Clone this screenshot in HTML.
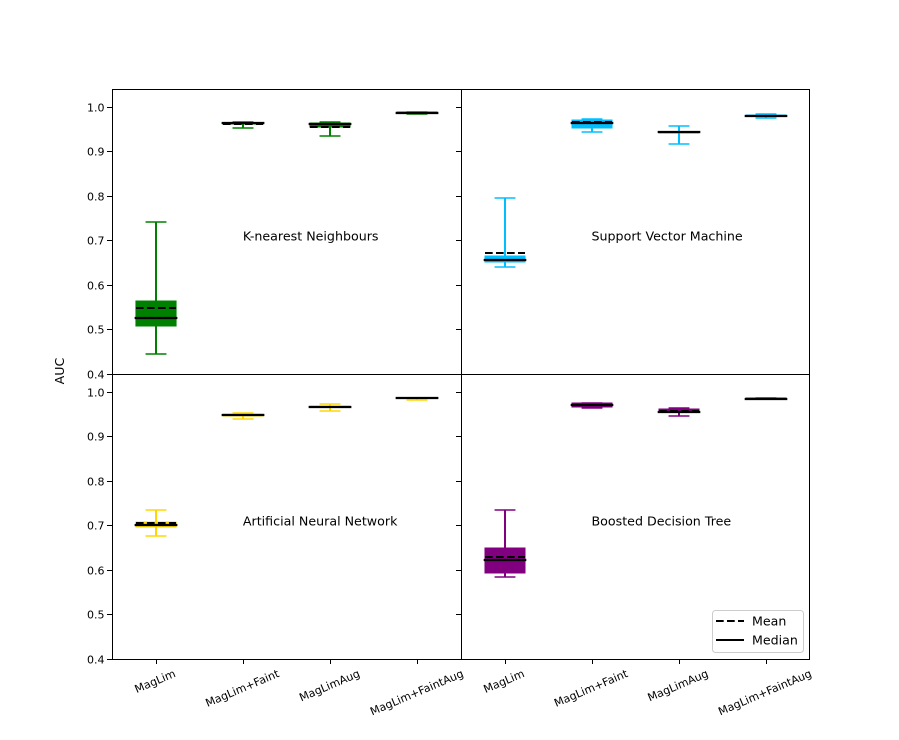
<!DOCTYPE html>
<html>
<head>
<meta charset="utf-8">
<title>AUC box plots</title>
<style>
html,body{margin:0;padding:0;background:#fff;}
svg{display:block;font-family:"DejaVu Sans","Liberation Sans",sans-serif;}
</style>
</head>
<body>
<svg id="chart" xmlns="http://www.w3.org/2000/svg" width="899" height="740" viewBox="0 0 899 740">
<rect width="899" height="740" fill="#ffffff"></rect>
</svg>
<script>
const categories = ["MagLim", "MagLim+Faint", "MagLimAug", "MagLim+FaintAug"];
const yTickValues = [0.4, 0.5, 0.6, 0.7, 0.8, 0.9, 1.0];
const yTickLabels = ["0.4", "0.5", "0.6", "0.7", "0.8", "0.9", "1.0"];
const panelTitles = ["K-nearest Neighbours", "Support Vector Machine", "Artificial Neural Network", "Boosted Decision Tree"];
const panelSlugs = ["knn", "svm", "ann", "bdt"];
const panelColors = ["#008000", "#00bfff", "#ffd700", "#800080"];

const knnWhiskerHigh = [0.741, 0.965, 0.9665, 0.989];
const knnQ3 = [0.564, 0.964, 0.963, 0.9875];
const knnMedian = [0.526, 0.963, 0.961, 0.987];
const knnMean = [0.549, 0.962, 0.9555, 0.987];
const knnQ1 = [0.508, 0.961, 0.954, 0.9865];
const knnWhiskerLow = [0.446, 0.952, 0.934, 0.983];

const svmWhiskerHigh = [0.7945, 0.973, 0.957, 0.9845];
const svmQ3 = [0.664, 0.970, 0.944, 0.9805];
const svmMedian = [0.656, 0.9635, 0.943, 0.980];
const svmMean = [0.672, 0.965, 0.943, 0.980];
const svmQ1 = [0.652, 0.952, 0.942, 0.9795];
const svmWhiskerLow = [0.6395, 0.943, 0.916, 0.976];

const annWhiskerHigh = [0.734, 0.9525, 0.9726, 0.987];
const annQ3 = [0.7077, 0.951, 0.968, 0.9865];
const annMedian = [0.7016, 0.9487, 0.9667, 0.986];
const annMean = [0.705, 0.9487, 0.9667, 0.986];
const annQ1 = [0.697, 0.9465, 0.965, 0.9855];
const annWhiskerLow = [0.6755, 0.938, 0.956, 0.982];

const bdtWhiskerHigh = [0.734, 0.9755, 0.9635, 0.986];
const bdtQ3 = [0.649, 0.974, 0.9625, 0.985];
const bdtMedian = [0.623, 0.9704, 0.9553, 0.9845];
const bdtMean = [0.630, 0.9704, 0.958, 0.9845];
const bdtQ1 = [0.594, 0.967, 0.954, 0.984];
const bdtWhiskerLow = [0.5835, 0.9645, 0.945, 0.983];

const whiskerHighSeries = [knnWhiskerHigh, svmWhiskerHigh, annWhiskerHigh, bdtWhiskerHigh];
const q3Series = [knnQ3, svmQ3, annQ3, bdtQ3];
const medianSeries = [knnMedian, svmMedian, annMedian, bdtMedian];
const meanSeries = [knnMean, svmMean, annMean, bdtMean];
const q1Series = [knnQ1, svmQ1, annQ1, bdtQ1];
const whiskerLowSeries = [knnWhiskerLow, svmWhiskerLow, annWhiskerLow, bdtWhiskerLow];

const legendLabels = ["Mean", "Median"];
const yAxisTitle = "AUC";

const NS = "http://www.w3.org/2000/svg";
const svg = document.getElementById("chart");
const LEFT = 112, MID = 461, RIGHT = 809, TOP = 89, CENTER = 374, BOTTOM = 659;
const YMIN = 0.4, YMAX = 1.04, XMIN = 0.5, XMAX = 4.5;

function panelBox(i) {
  const col = i % 2, row = i < 2 ? 0 : 1;
  return {
    x0: col === 0 ? LEFT : MID,
    x1: col === 0 ? MID : RIGHT,
    y0: row === 0 ? TOP : CENTER,
    y1: row === 0 ? CENTER : BOTTOM
  };
}
function xScale(i, pos) {
  const b = panelBox(i);
  return b.x0 + (pos - XMIN) / (XMAX - XMIN) * (b.x1 - b.x0);
}
function yScale(i, v) {
  const b = panelBox(i);
  return b.y1 - (v - YMIN) / (YMAX - YMIN) * (b.y1 - b.y0);
}
function make(tag, attrs, parent, text) {
  const el = document.createElementNS(NS, tag);
  for (const k in attrs) el.setAttribute(k, attrs[k]);
  if (text !== undefined) el.textContent = text;
  parent.appendChild(el);
  return el;
}

panelTitles.forEach(function (title, i) {
  const slug = panelSlugs[i];
  const color = panelColors[i];
  const b = panelBox(i);
  const g = make("g", {}, svg);
  
  

  categories.forEach(function (cat, c) {
    const cx = Math.round(xScale(i, c + 1));
    const yHi = Math.round(yScale(i, whiskerHighSeries[i][c]));
    const yQ3 = Math.round(yScale(i, q3Series[i][c]));
    const yMed = Math.round(yScale(i, medianSeries[i][c]));
    const yMean = Math.round(yScale(i, meanSeries[i][c]));
    const yQ1 = Math.round(yScale(i, q1Series[i][c]));
    const yLo = Math.round(yScale(i, whiskerLowSeries[i][c]));
    const capHalf = 0.12 * (b.x1 - b.x0) / 4;
    const boxHalf = 0.23 * (b.x1 - b.x0) / 4;
    const medHalf = 0.245 * (b.x1 - b.x0) / 4;
    const group = make("g", {}, g);
    
    

    const whiskerUp = make("line", {x1: cx, x2: cx, y1: yQ3, y2: yHi, stroke: color, "stroke-width": 2}, group);
    
    
    const whiskerDown = make("line", {x1: cx, x2: cx, y1: yQ1, y2: yLo, stroke: color, "stroke-width": 2}, group);
    
    
    const capHi = make("line", {x1: cx - capHalf, x2: cx + capHalf, y1: yHi, y2: yHi, stroke: color, "stroke-width": 1.6}, group);
    
    
    const capLo = make("line", {x1: cx - capHalf, x2: cx + capHalf, y1: yLo, y2: yLo, stroke: color, "stroke-width": 1.6}, group);
    
    
    const box = make("rect", {x: cx - boxHalf, width: 2 * boxHalf, y: yQ3, height: Math.max(yQ1 - yQ3, 0.5), fill: color, stroke: color, "stroke-width": 1}, group);
    
    
    const meanLine = make("line", {x1: cx - boxHalf, x2: cx + boxHalf, y1: yMean, y2: yMean, stroke: "#000", "stroke-width": 2, "stroke-dasharray": "7.7 3.3"}, group);
    
    
    const medianLine = make("line", {x1: cx - medHalf, x2: cx + medHalf, y1: yMed, y2: yMed, stroke: "#000", "stroke-width": 2.2}, group);
    
    
  });

  const label = make("text", {x: xScale(i, 2), y: yScale(i, 0.7), "font-size": 12.65, fill: "#000"}, g, title);
  
  

  yTickValues.forEach(function (v, t) {
    const y = Math.round(yScale(i, v)) + 0.5;
    const tick = make("line", {x1: b.x0 - 5, x2: b.x0, y1: y, y2: y, stroke: "#000", "stroke-width": 1}, g);
    
    
    if (i % 2 === 0) {
      const tl = make("text", {x: b.x0 - 7.5, y: y + 3.8, "font-size": 11, "text-anchor": "end", fill: "#000"}, g, yTickLabels[t]);
      
      
    }
  });

  if (i >= 2) {
    categories.forEach(function (cat, c) {
      const x = Math.round(xScale(i, c + 1)) + 0.5;
      const tick = make("line", {x1: x, x2: x, y1: b.y1, y2: b.y1 + 5, stroke: "#000", "stroke-width": 1}, g);
      
      
      const tl = make("text", {x: 0, y: 0, "font-size": 11, "text-anchor": "middle", "dominant-baseline": "central", fill: "#000"}, g, cat);
      
      
      const w = tl.getComputedTextLength();
      const rad = 23 * Math.PI / 180;
      const bboxH = w * Math.sin(rad) + 11 * Math.cos(rad);
      tl.setAttribute("transform", "translate(" + (xScale(i, c + 1) - 0.5) + "," + (b.y1 + 9 + bboxH / 2) + ") rotate(-23)");
    });
  }

  const frame = make("rect", {x: b.x0 + 0.5, y: b.y0 + 0.5, width: b.x1 - b.x0, height: b.y1 - b.y0, fill: "none", stroke: "#000", "stroke-width": 1}, g);
  
  
});

const yTitle = make("text", {transform: "translate(64,371) rotate(-90)", "font-size": 12.6, "text-anchor": "middle", fill: "#000"}, svg, yAxisTitle);



const legend = make("g", {}, svg);


const legendFrame = make("rect", {x: 712.5, y: 610.5, width: 91, height: 42, rx: 3, ry: 3, fill: "#fff", "fill-opacity": 0.8, stroke: "#ccc", "stroke-width": 1}, legend);


legendLabels.forEach(function (name, i) {
  const y = 621 + i * 19;
  const sample = make("line", {x1: 716, x2: 744, y1: y, y2: y, stroke: "#000", "stroke-width": 2}, legend);
  if (i === 0) sample.setAttribute("stroke-dasharray", "7.7 3.3");
  
  
  const text = make("text", {x: 752, y: y + 4.5, "font-size": 12.6, fill: "#000"}, legend, name);
  
  
});
</script>
</body>
</html>
